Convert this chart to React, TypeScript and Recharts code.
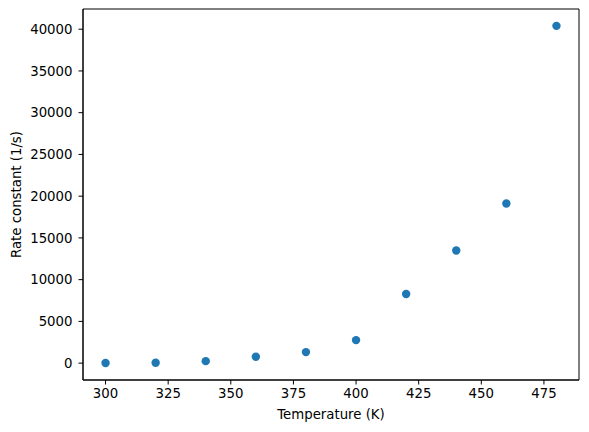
import React from "react";
import {
  ScatterChart,
  Scatter,
  XAxis,
  YAxis,
  ReferenceArea,
  Label,
} from "recharts";

const temperatures = [300, 320, 340, 360, 380, 400, 420, 440, 460, 480];
const rateConstants = [10, 50, 240, 760, 1320, 2760, 8290, 13490, 19130, 40400];
const xTicks = [300, 325, 350, 375, 400, 425, 450, 475];
const yTicks = [0, 5000, 10000, 15000, 20000, 25000, 30000, 35000, 40000];

const data = temperatures.map((t, i) => ({ t, k: rateConstants[i] }));

const X_DOMAIN: [number, number] = [291, 489];
const Y_DOMAIN: [number, number] = [-2020, 42420];

const FONT = "DejaVu Sans";
const FS = 13.3;
const BLUE = "#1f77b4";

const Dot = (props: any) => (
  <circle cx={props.cx} cy={props.cy} r={4.2} fill={BLUE} />
);

export default function App() {
  return (
    <div style={{ position: "absolute", left: 0, top: 0, background: "#fff" }}>
      <ScatterChart
        width={589}
        height={432}
        margin={{ top: 9, right: 10, left: 0, bottom: 0 }}
        style={{ fontFamily: FONT }}
      >
        <XAxis
          type="number"
          dataKey="t"
          domain={X_DOMAIN}
          allowDataOverflow
          ticks={xTicks}
          height={52}
          tickSize={4.5}
          tickMargin={4.5}
          stroke="#000"
          axisLine={{ stroke: "#000", strokeWidth: 1 }}
          tickLine={{ stroke: "#000", strokeWidth: 1 }}
          tick={{ fill: "#000", fontSize: FS, fontFamily: FONT }}
        >
          <Label
            content={({ viewBox }: any) => (
              <text
                x={viewBox.x + viewBox.width / 2}
                y={414.5}
                textAnchor="middle"
                dominantBaseline="central"
                fontSize={FS}
                fontFamily={FONT}
                fill="#000"
              >
                Temperature (K)
              </text>
            )}
          />
        </XAxis>
        <YAxis
          type="number"
          dataKey="k"
          domain={Y_DOMAIN}
          allowDataOverflow
          ticks={yTicks}
          width={83}
          tickSize={4.5}
          tickMargin={6}
          stroke="#000"
          axisLine={{ stroke: "#000", strokeWidth: 1 }}
          tickLine={{ stroke: "#000", strokeWidth: 1 }}
          tick={{ fill: "#000", fontSize: FS, fontFamily: FONT }}
        >
          <Label
            content={({ viewBox }: any) => {
              const cx = 16;
              const cy = viewBox.y + viewBox.height / 2;
              return (
                <text
                  x={cx}
                  y={cy}
                  transform={`rotate(-90 ${cx} ${cy})`}
                  textAnchor="middle"
                  dominantBaseline="central"
                  fontSize={FS}
                  fontFamily={FONT}
                  fill="#000"
                >
                  Rate constant (1/s)
                </text>
              );
            }}
          />
        </YAxis>
        <ReferenceArea
          x1={X_DOMAIN[0]}
          x2={X_DOMAIN[1]}
          y1={Y_DOMAIN[0]}
          y2={Y_DOMAIN[1]}
          fill="none"
          stroke="#000"
          strokeWidth={1}
          fillOpacity={0}
          ifOverflow="visible"
        />
        <Scatter
          data={data}
          fill={BLUE}
          shape={Dot}
          isAnimationActive={false}
        />
      </ScatterChart>
    </div>
  );
}
